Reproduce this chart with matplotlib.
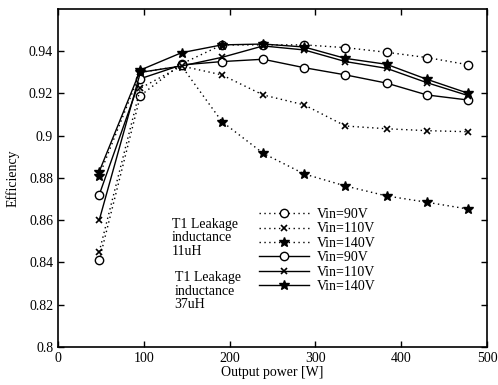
import matplotlib
matplotlib.use("Agg")
import matplotlib.pyplot as plt

plt.rcParams['font.family'] = ['Liberation Serif', 'DejaVu Serif']
plt.rcParams['font.size'] = 10

power = [48, 96, 144, 191, 239, 287, 335, 383, 430, 478]

# T1 leakage inductance 11uH (dotted)
d90 = [0.841, 0.919, 0.934, 0.943, 0.943, 0.943, 0.9417, 0.9395, 0.937, 0.9336]
d110 = [0.845, 0.9225, 0.933, 0.9288, 0.9193, 0.9146, 0.9046, 0.9033, 0.9024, 0.9019]
d140 = [0.881, 0.930, 0.933, 0.9067, 0.8917, 0.8819, 0.8762, 0.8715, 0.8685, 0.8653]
# T1 leakage inductance 37uH (solid)
s90 = [0.872, 0.927, 0.9335, 0.9351, 0.9362, 0.9322, 0.9288, 0.9249, 0.9193, 0.9169]
s110 = [0.860, 0.930, 0.933, 0.9371, 0.9425, 0.9406, 0.9351, 0.9319, 0.9251, 0.919]
s140 = [0.883, 0.9311, 0.9393, 0.943, 0.9434, 0.942, 0.9366, 0.9338, 0.9267, 0.9201]

labels = ['Vin=90V', 'Vin=110V', 'Vin=140V', 'Vin=90V', 'Vin=110V', 'Vin=140V']

fig = plt.figure(figsize=(4.98, 3.85), dpi=100)
ax = fig.add_axes([0.1165, 0.0987, 0.8615, 0.878])

circ = dict(marker='o', markersize=6, markerfacecolor='white', markeredgecolor='black', markeredgewidth=1)
cross = dict(marker='x', markersize=5, markeredgecolor='black', markeredgewidth=1.2)
star = dict(marker='*', markersize=7, markerfacecolor='black', markeredgecolor='black')

dot = (0, (1, 2.5))
h1, = ax.plot(power, d90, linestyle=dot, color='black', lw=1, **circ)
h2, = ax.plot(power, d110, linestyle=dot, color='black', lw=1, **cross)
h3, = ax.plot(power, d140, linestyle=dot, color='black', lw=1, **star)
h4, = ax.plot(power, s90, '-', color='black', lw=1, **circ)
h5, = ax.plot(power, s110, '-', color='black', lw=1, **cross)
h6, = ax.plot(power, s140, '-', color='black', lw=1, **star)

ax.set_xlim(0, 500)
ax.set_ylim(0.8, 0.96)
ax.set_xticks([0, 100, 200, 300, 400, 500])
ax.set_yticks([0.8, 0.82, 0.84, 0.86, 0.88, 0.9, 0.92, 0.94])
ax.set_yticklabels(['0.8', '0.82', '0.84', '0.86', '0.88', '0.9', '0.92', '0.94'])
ax.tick_params(direction='in', top=True, right=True, length=4, width=1, labelsize=10)
for s in ax.spines.values():
    s.set_linewidth(1.2)

ax.set_xlabel('Output power [W]', fontsize=10, labelpad=1)
ax.set_ylabel('Efficiency', fontsize=10, labelpad=7)

ax.text(133, 0.8516, 'T1 Leakage\ninductance\n11uH', ha='left', va='center', fontsize=10, linespacing=1.05)
ax.text(136, 0.8265, 'T1 Leakage\ninductance\n37uH', ha='left', va='center', fontsize=10, linespacing=1.05)

leg = ax.legend([h1, h2, h3, h4, h5, h6], labels, loc='center left',
                bbox_to_anchor=(234, 0.8457), bbox_transform=ax.transData,
                frameon=False, handlelength=3.6, handletextpad=0.6, numpoints=1,
                labelspacing=0.1, borderpad=0, borderaxespad=0, fontsize=10)

fig.savefig('out.png', dpi=100)
